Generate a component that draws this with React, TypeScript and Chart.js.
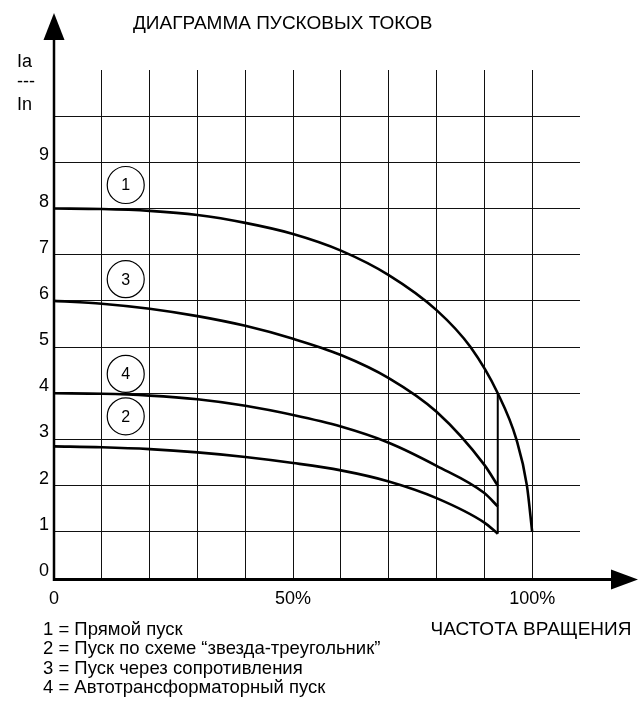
import React, { useEffect, useRef } from "react";
import { Chart, registerables } from "chart.js";

Chart.register(...registerables);

// ---- data ----
const titleText = "ДИАГРАММА ПУСКОВЫХ ТОКОВ";
const yAxisLabel = ["Ia", "---", "In"];
const xAxisTitle = "ЧАСТОТА ВРАЩЕНИЯ";

// speed, % of nominal
const speed = [0, 10, 20, 30, 40, 50, 60, 70, 80, 90, 92.8];
const directSpeed = [0, 10, 20, 30, 40, 50, 60, 70, 80, 87.1, 92.8, 96.7, 98.9, 100];

// Ia / In
const directStart = [8.0, 7.99, 7.95, 7.86, 7.69, 7.45, 7.09, 6.56, 5.8, 5.0, 4.0, 3.0, 2.0, 1.0];
const resistorStart = [6.0, 5.94, 5.83, 5.67, 5.46, 5.18, 4.83, 4.33, 3.6, 2.45, 2.0];
const autoTransformerStart = [4.0, 3.99, 3.95, 3.87, 3.73, 3.53, 3.28, 2.93, 2.43, 1.84, 1.55];
const starDeltaStart = [2.85, 2.83, 2.79, 2.72, 2.62, 2.49, 2.33, 2.09, 1.73, 1.2, 0.96];

// switch-over line
const switchSpeed = [92.8, 92.8];
const switchLevel = [4.0, 0.96];

// circled curve numbers
const markerLabels = ["1", "3", "4", "2"];
const markerX = [15, 15, 15, 15];
const markerY = [8.51, 6.47, 4.42, 3.5];

// ticks
const yTickLabels = ["0", "1", "2", "3", "4", "5", "6", "7", "8", "9"];
const xTickValues = [0, 50, 100];
const xTickLabels = ["0", "50%", "100%"];

const legendItems = [
  "1 = Прямой пуск",
  "2 = Пуск по схеме “звезда-треугольник”",
  "3 = Пуск через сопротивления",
  "4 = Автотрансформаторный пуск",
];

const FONT = '"Liberation Sans", Arial, Helvetica, sans-serif';

const toPts = (xs: number[], ys: number[]) => xs.map((x, i) => ({ x, y: ys[i] }));

export default function App() {
  const ref = useRef<HTMLCanvasElement | null>(null);

  useEffect(() => {
    if (!ref.current) return;

    const decor = {
      id: "decor",
      afterDatasetsDraw(chart: any) {
        const { ctx } = chart;
        const meta = chart.getDatasetMeta(5);
        ctx.save();
        ctx.fillStyle = "#000";
        ctx.font = `16px ${FONT}`;
        ctx.textAlign = "center";
        ctx.textBaseline = "middle";
        meta.data.forEach((el: any, i: number) => {
          ctx.fillText(markerLabels[i], el.x, el.y + 1);
        });
        ctx.restore();
      },
      afterDraw(chart: any) {
        const { ctx, chartArea } = chart;
        const xs = chart.scales.x;
        const ys = chart.scales.y;
        const x0 = xs.getPixelForValue(0);
        const y0 = ys.getPixelForValue(0);
        const top = chartArea.top;
        const right = chartArea.right;
        ctx.save();
        ctx.fillStyle = "#000";
        ctx.strokeStyle = "#000";
        // y axis with arrow
        ctx.lineWidth = 2.5;
        ctx.beginPath();
        ctx.moveTo(x0, y0 + 3);
        ctx.lineTo(x0, top - 30);
        ctx.stroke();
        ctx.beginPath();
        ctx.moveTo(x0, top - 57);
        ctx.lineTo(x0 - 10.5, top - 30);
        ctx.lineTo(x0 + 10.5, top - 30);
        ctx.closePath();
        ctx.fill();
        // x axis with arrow
        const ya = y0 + 1.5;
        ctx.lineWidth = 3;
        ctx.beginPath();
        ctx.moveTo(x0 - 1, ya);
        ctx.lineTo(right + 32, ya);
        ctx.stroke();
        ctx.beginPath();
        ctx.moveTo(right + 58, ya);
        ctx.lineTo(right + 31, ya - 10);
        ctx.lineTo(right + 31, ya + 10);
        ctx.closePath();
        ctx.fill();

        // texts
        ctx.textBaseline = "alphabetic";
        ctx.textAlign = "left";
        ctx.font = `19px ${FONT}`;
        ctx.fillText(titleText, 133, 29);
        ctx.font = `18px ${FONT}`;
        ctx.fillText(yAxisLabel[0], 17, 67);
        ctx.fillText(yAxisLabel[1], 17, 87);
        ctx.fillText(yAxisLabel[2], 17, 110);
        ctx.font = `18.5px ${FONT}`;
        legendItems.forEach((t, i) => {
          ctx.fillText(t, 43, 635 + i * 19.3);
        });
        ctx.textAlign = "center";
        ctx.font = `19px ${FONT}`;
        ctx.fillText(xAxisTitle, 531, 635);
        ctx.restore();
      },
    };

    const lineDs = (data: any[], width: number) => ({
      data,
      showLine: true,
      borderColor: "#000",
      borderWidth: width,
      pointRadius: 0,
      fill: false,
      cubicInterpolationMode: "monotone",
    });

    const chart = new Chart(ref.current, {
      type: "scatter",
      data: {
        datasets: [
          lineDs(toPts(directSpeed, directStart), 2.6),
          lineDs(toPts(speed, resistorStart), 2.6),
          lineDs(toPts(speed, autoTransformerStart), 2.6),
          lineDs(toPts(speed, starDeltaStart), 2.6),
          lineDs(toPts(switchSpeed, switchLevel), 2),
          {
            data: toPts(markerX, markerY),
            showLine: false,
            pointRadius: 18.5,
            pointBackgroundColor: "#fff",
            pointBorderColor: "#000",
            pointBorderWidth: 1.2,
          },
        ] as any,
      },
      options: {
        responsive: false,
        animation: false,
        events: [],
        layout: { padding: { top: 70, right: 63, bottom: 84, left: 0 } },
        plugins: {
          legend: { display: false },
          tooltip: { enabled: false },
          title: { display: false },
        },
        scales: {
          x: {
            type: "linear",
            min: 0,
            max: 110,
            border: { display: false },
            grid: {
              drawTicks: false,
              lineWidth: 1,
              color: (c: any) => (c.tick && c.tick.value >= 110 ? "rgba(0,0,0,0)" : "#111"),
            },
            ticks: {
              stepSize: 10,
              padding: 10,
              color: "#000",
              font: { family: FONT, size: 18 },
              maxRotation: 0,
              autoSkip: false,
              callback: (v: any) => {
                const k = xTickValues.indexOf(Number(v));
                return k >= 0 ? xTickLabels[k] : "";
              },
            },
            afterFit: (s: any) => {
              s.height = 40;
            },
          },
          y: {
            type: "linear",
            min: 0,
            max: 11,
            border: { display: false },
            grid: {
              drawTicks: false,
              lineWidth: 1,
              color: (c: any) => (c.tick && c.tick.value >= 11 ? "rgba(0,0,0,0)" : "#111"),
            },
            ticks: {
              stepSize: 1,
              padding: 5,
              labelOffset: -7,
              color: "#000",
              font: { family: FONT, size: 18 },
              autoSkip: false,
              callback: (v: any) => {
                const n = Number(v);
                return n < yTickLabels.length ? yTickLabels[n] : "";
              },
            },
            afterFit: (s: any) => {
              s.width = 54;
            },
          },
        },
      },
      plugins: [decor],
    } as any);

    return () => chart.destroy();
  }, []);

  return (
    <div style={{ position: "absolute", left: 0, top: 0, width: 643, height: 702, background: "#fff" }}>
      <canvas ref={ref} width={643} height={702} style={{ display: "block" }} />
    </div>
  );
}
